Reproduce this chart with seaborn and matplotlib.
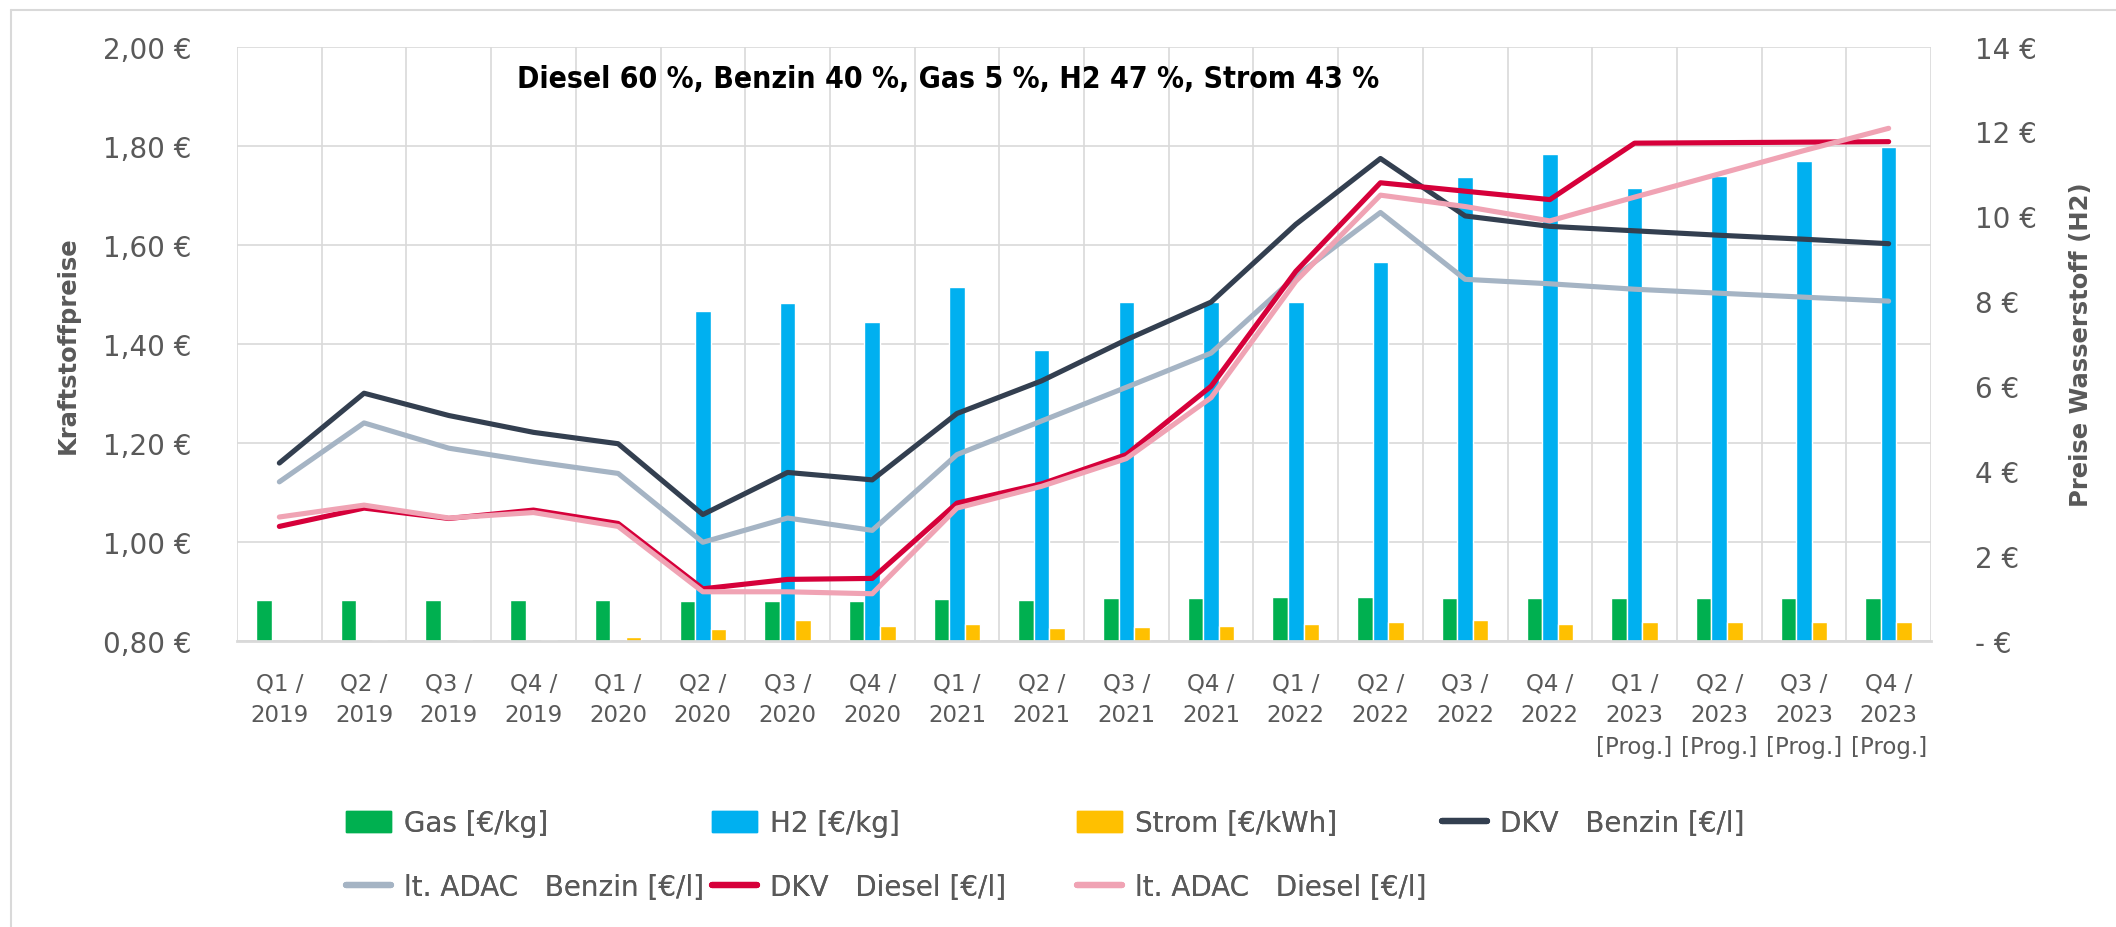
import numpy as np
import pandas as pd
import seaborn as sns
import matplotlib.pyplot as plt
from matplotlib import font_manager
from matplotlib.patches import Patch
from matplotlib.lines import Line2D

# --- Daten ---
quartale = ["Q1", "Q2", "Q3", "Q4"] * 5
jahre = ["2019"] * 4 + ["2020"] * 4 + ["2021"] * 4 + ["2022"] * 4 + ["2023"] * 4
prognose = [False] * 16 + [True] * 4

gas = [0.96, 0.96, 0.96, 0.96, 0.96, 0.93, 0.93, 0.93, 0.98, 0.97,
       1.00, 1.02, 1.04, 1.04, 1.02, 1.02, 1.02, 1.02, 1.02, 1.02]
h2 = [np.nan, np.nan, np.nan, np.nan, np.nan, 7.77, 7.95, 7.52, 8.33, 6.84,
      7.98, 7.98, 7.98, 8.92, 10.92, 11.47, 10.67, 10.96, 11.31, 11.63]
strom = [0.0, 0.01, 0.01, 0.01, 0.09, 0.27, 0.50, 0.34, 0.39, 0.30,
         0.32, 0.36, 0.39, 0.45, 0.48, 0.39, 0.44, 0.44, 0.44, 0.45]

dkv_benzin = [1.159, 1.300, 1.255, 1.221, 1.198, 1.055, 1.140, 1.125, 1.259, 1.325,
              1.408, 1.484, 1.641, 1.774, 1.658, 1.637, 1.628, 1.619, 1.611, 1.602]
adac_benzin = [1.121, 1.240, 1.189, 1.162, 1.138, 0.999, 1.048, 1.023, 1.176, 1.244,
               1.312, 1.381, 1.536, 1.665, 1.530, 1.521, 1.510, 1.502, 1.494, 1.486]
dkv_diesel = [1.031, 1.068, 1.047, 1.064, 1.037, 0.905, 0.924, 0.926, 1.078, 1.117,
              1.176, 1.314, 1.546, 1.725, 1.708, 1.691, 1.805, 1.806, 1.807, 1.808]
adac_diesel = [1.050, 1.074, 1.048, 1.059, 1.031, 0.899, 0.899, 0.895, 1.068, 1.112,
               1.168, 1.291, 1.526, 1.700, 1.677, 1.648, 1.696, 1.743, 1.790, 1.835]

titel = "Diesel 60 %, Benzin 40 %, Gas 5 %, H2 47 %, Strom 43 %"

# Umrechnung linke Achse (Kraftstoff) <-> rechte Achse (H2)
def links_zu_h2(v):
    return (np.asarray(v) - 0.8) / 1.2 * 14

def h2_zu_links(h):
    return 0.8 + np.asarray(h) * 1.2 / 14

n = len(quartale)
x = np.arange(n)
xlabels = [f"{q} /\n{j}" + ("\n[Prog.]" if p else "") for q, j, p in zip(quartale, jahre, prognose)]

df_bars = pd.DataFrame({
    "x": np.tile(x, 3),
    "serie": ["Gas"] * n + ["H2"] * n + ["Strom"] * n,
    "wert": h2_zu_links(np.array(gas + h2 + strom, dtype=float)),
}).dropna()

farbe_text = "#595959"
farbe_grid = "#d9d9d9"
c_gas, c_h2, c_strom = "#00b050", "#00b0f0", "#ffc000"
c_dkv_b, c_adac_b, c_dkv_d, c_adac_d = "#333f50", "#a5b4c4", "#d6003a", "#f0a3b4"

sns.set_style("white")
plt.rcParams["font.family"] = ["DejaVu Sans"]

# schmale, fette Schrift fuer den Titel suchen (falls vorhanden)
titel_datei = None
for f in font_manager.fontManager.ttflist:
    name = f.name.lower()
    schmal = ("narrow" in name or "condensed" in name or str(f.stretch).lower() in
              ("condensed", "semi-condensed", "extra-condensed"))
    fett = f.weight in ("bold", 700, "semibold", 600) or (isinstance(f.weight, int) and f.weight >= 600)
    if schmal and fett and "oblique" not in f.fname.lower() and "italic" not in f.fname.lower():
        titel_datei = f.fname
        break
if titel_datei:
    titel_fp = font_manager.FontProperties(fname=titel_datei, size=21.6)
else:
    titel_fp = font_manager.FontProperties(family="DejaVu Sans", weight="bold", size=19.5)

fig = plt.figure(figsize=(21.16, 9.28), dpi=100)
ax = fig.add_axes([237 / 2116, 1 - 641.8 / 928, (1931 - 237) / 2116, (641.8 - 47.6) / 928])

sns.barplot(data=df_bars, x="x", y="wert", hue="serie", hue_order=["Gas", "H2", "Strom"],
            palette=[c_gas, c_h2, c_strom], width=0.55, errorbar=None, legend=False,
            order=list(x), ax=ax, saturation=1, zorder=2)

for werte, farbe in [(dkv_benzin, c_dkv_b), (adac_benzin, c_adac_b),
                     (dkv_diesel, c_dkv_d), (adac_diesel, c_adac_d)]:
    sns.lineplot(x=x, y=werte, color=farbe, linewidth=3.7, ax=ax, zorder=3, sort=False)

ax.set_xlim(-0.5, n - 0.5)
ax.set_ylim(0.8, 2.0)
ax.set_xlabel("")
ax.set_ylabel("")

# Achsen / Gitter
ax.set_yticks(np.arange(0.8, 2.001, 0.2))
ax.set_yticklabels([f"{v:.2f} €".replace(".", ",") for v in np.arange(0.8, 2.001, 0.2)])
ax.tick_params(axis="y", length=0, pad=33, labelsize=20, labelcolor=farbe_text)
ax.set_xticks(np.arange(-0.5, n, 1.0))
ax.set_xticklabels([])
ax.set_xticks(x, minor=True)
ax.set_xticklabels(xlabels, minor=True, fontsize=16.5, color=farbe_text, linespacing=1.5)
ax.tick_params(axis="x", which="major", length=6.5, width=1.4, color=farbe_grid)
ax.tick_params(axis="x", which="minor", length=0, pad=22)
ax.grid(True, color=farbe_grid, linewidth=1.2)
ax.set_axisbelow(True)
for s in ["left", "right", "top"]:
    ax.spines[s].set_visible(False)
ax.spines["bottom"].set_color(farbe_grid)
ax.spines["bottom"].set_linewidth(2)

sek = ax.secondary_yaxis("right", functions=(links_zu_h2, h2_zu_links))
sek.set_yticks(np.arange(0, 14.1, 2))
sek.set_yticklabels(["- €"] + [f"{int(v)} €" for v in np.arange(2, 14.1, 2)])
sek.tick_params(length=0, pad=32, labelsize=20, labelcolor=farbe_text)
sek.spines["right"].set_visible(False)

# Achsentitel
fig.text(68 / 2116, 1 - 345 / 928, "Kraftstoffpreise", rotation=90, ha="center", va="center",
         fontsize=17.5, fontweight="bold", color=farbe_text)
fig.text(2081 / 2116, 1 - 345 / 928, "Preise Wasserstoff (H2)", rotation=90, ha="center",
         va="center", fontsize=17.5, fontweight="bold", color=farbe_text)

# Diagrammtitel
fig.text(948 / 2116, 1 - 80 / 928, titel, ha="center", va="center", color="black",
         fontproperties=titel_fp)

# Rahmen (oben und links)
fig.add_artist(Line2D([11 / 2116, 11 / 2116], [0, 1 - 11 / 928], transform=fig.transFigure,
                      color=farbe_grid, linewidth=1.5))
fig.add_artist(Line2D([11 / 2116, 1], [1 - 11 / 928, 1 - 11 / 928], transform=fig.transFigure,
                      color=farbe_grid, linewidth=1.5))

# Legende in vier Spalten
eintraege = [
    [(Patch(color=c_gas), "Gas [€/kg]"), (Line2D([], [], color=c_adac_b, lw=4.5), "lt. ADAC   Benzin [€/l]")],
    [(Patch(color=c_h2), "H2 [€/kg]"), (Line2D([], [], color=c_dkv_d, lw=4.5), "DKV   Diesel [€/l]")],
    [(Patch(color=c_strom), "Strom [€/kWh]"), (Line2D([], [], color=c_adac_d, lw=4.5), "lt. ADAC   Diesel [€/l]")],
    [(Line2D([], [], color=c_dkv_b, lw=4.5), "DKV   Benzin [€/l]")],
]
spalten_x = [346, 712, 1077, 1442]
for sx, spalte in zip(spalten_x, eintraege):
    leg = fig.legend([h for h, _ in spalte], [t for _, t in spalte], loc="upper left",
                     bbox_to_anchor=(sx / 2116, 1 - 810 / 928), frameon=False, fontsize=20,
                     labelcolor=farbe_text, handlelength=1.62, handleheight=0.82,
                     handletextpad=0.47, labelspacing=1.3, borderpad=0, borderaxespad=0)
    fig.add_artist(leg)

fig.savefig("out.png", dpi=100)
